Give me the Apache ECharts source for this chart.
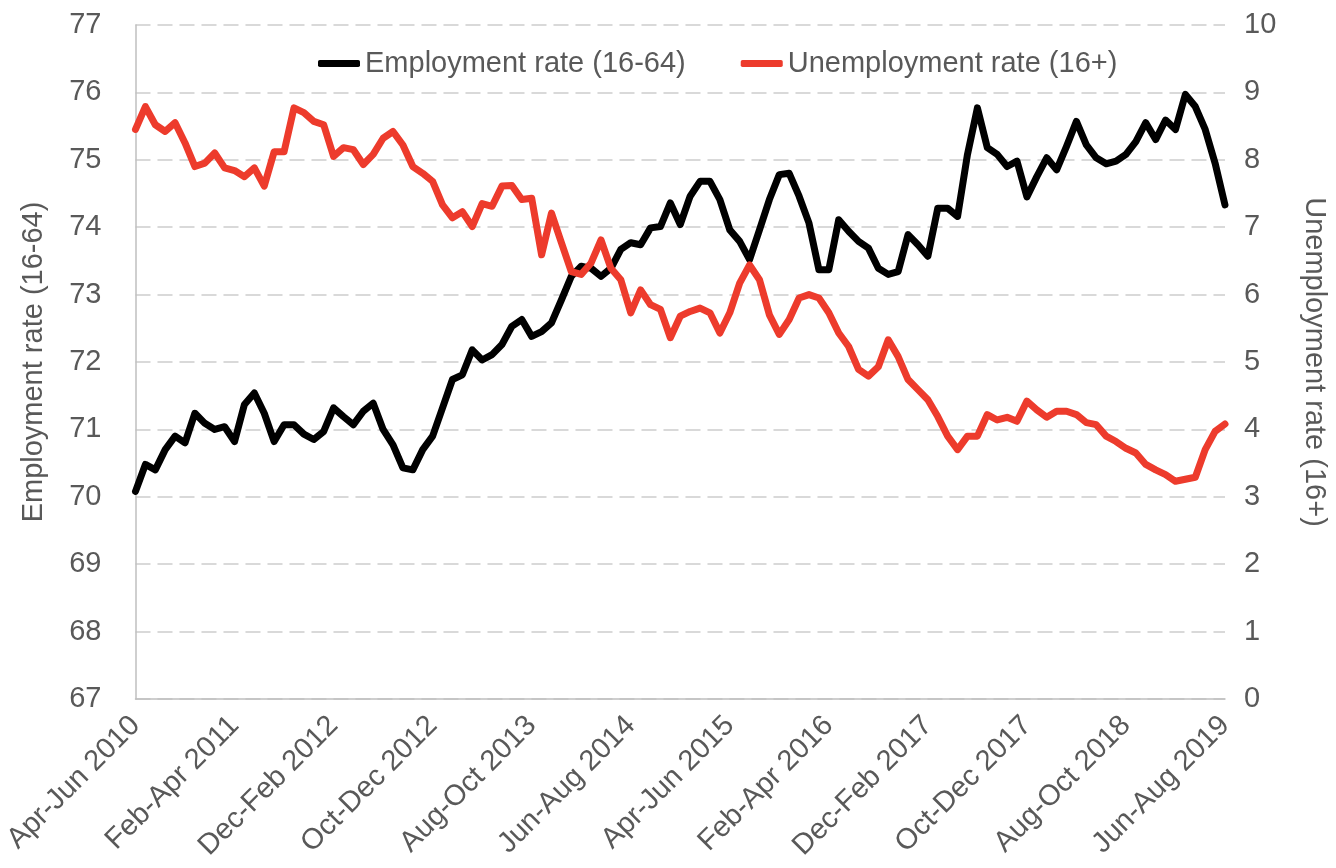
<!DOCTYPE html>
<html>
<head>
<meta charset="utf-8">
<title>Employment and unemployment rates</title>
<script src="https://cdn.jsdelivr.net/npm/echarts@6/dist/echarts.min.js"></script>
<style>
  html, body { margin: 0; padding: 0; background: #ffffff; }
  #chart { width: 1336px; height: 868px; }
</style>
</head>
<body>
<div id="chart"></div>
<script>
// Rolling three-month periods, Apr-Jun 2010 to Jun-Aug 2019
const periods = [
  'Apr-Jun 2010','May-Jul 2010','Jun-Aug 2010','Jul-Sep 2010','Aug-Oct 2010','Sep-Nov 2010','Oct-Dec 2010',
  'Nov-Jan 2011','Dec-Feb 2011','Jan-Mar 2011','Feb-Apr 2011','Mar-May 2011','Apr-Jun 2011','May-Jul 2011','Jun-Aug 2011','Jul-Sep 2011','Aug-Oct 2011','Sep-Nov 2011','Oct-Dec 2011',
  'Nov-Jan 2012','Dec-Feb 2012','Jan-Mar 2012','Feb-Apr 2012','Mar-May 2012','Apr-Jun 2012','May-Jul 2012','Jun-Aug 2012','Jul-Sep 2012','Aug-Oct 2012','Sep-Nov 2012','Oct-Dec 2012',
  'Nov-Jan 2013','Dec-Feb 2013','Jan-Mar 2013','Feb-Apr 2013','Mar-May 2013','Apr-Jun 2013','May-Jul 2013','Jun-Aug 2013','Jul-Sep 2013','Aug-Oct 2013','Sep-Nov 2013','Oct-Dec 2013',
  'Nov-Jan 2014','Dec-Feb 2014','Jan-Mar 2014','Feb-Apr 2014','Mar-May 2014','Apr-Jun 2014','May-Jul 2014','Jun-Aug 2014','Jul-Sep 2014','Aug-Oct 2014','Sep-Nov 2014','Oct-Dec 2014',
  'Nov-Jan 2015','Dec-Feb 2015','Jan-Mar 2015','Feb-Apr 2015','Mar-May 2015','Apr-Jun 2015','May-Jul 2015','Jun-Aug 2015','Jul-Sep 2015','Aug-Oct 2015','Sep-Nov 2015','Oct-Dec 2015',
  'Nov-Jan 2016','Dec-Feb 2016','Jan-Mar 2016','Feb-Apr 2016','Mar-May 2016','Apr-Jun 2016','May-Jul 2016','Jun-Aug 2016','Jul-Sep 2016','Aug-Oct 2016','Sep-Nov 2016','Oct-Dec 2016',
  'Nov-Jan 2017','Dec-Feb 2017','Jan-Mar 2017','Feb-Apr 2017','Mar-May 2017','Apr-Jun 2017','May-Jul 2017','Jun-Aug 2017','Jul-Sep 2017','Aug-Oct 2017','Sep-Nov 2017','Oct-Dec 2017',
  'Nov-Jan 2018','Dec-Feb 2018','Jan-Mar 2018','Feb-Apr 2018','Mar-May 2018','Apr-Jun 2018','May-Jul 2018','Jun-Aug 2018','Jul-Sep 2018','Aug-Oct 2018','Sep-Nov 2018','Oct-Dec 2018',
  'Nov-Jan 2019','Dec-Feb 2019','Jan-Mar 2019','Feb-Apr 2019','Mar-May 2019','Apr-Jun 2019','May-Jul 2019','Jun-Aug 2019'
];

// Employment rate, aged 16-64 (%)
const employmentRate = [
  70.08, 70.48, 70.40, 70.70, 70.90, 70.80, 71.24, 71.09, 71.00, 71.04,
  70.82, 71.37, 71.54, 71.24, 70.82, 71.07, 71.07, 70.93, 70.85, 70.97,
  71.32, 71.19, 71.07, 71.27, 71.39, 71.00, 70.77, 70.43, 70.40, 70.70,
  70.90, 71.32, 71.74, 71.81, 72.18, 72.03, 72.11, 72.26, 72.53, 72.63,
  72.38, 72.45, 72.58, 72.92, 73.27, 73.42, 73.39, 73.27, 73.39, 73.67,
  73.77, 73.74, 73.99, 74.01, 74.36, 74.04, 74.46, 74.68, 74.68, 74.41,
  73.96, 73.79, 73.52, 73.96, 74.41, 74.78, 74.80, 74.46, 74.06, 73.37,
  73.37, 74.11, 73.94, 73.79, 73.69, 73.39, 73.30, 73.34, 73.89, 73.74,
  73.57, 74.28, 74.28, 74.16, 75.08, 75.77, 75.18, 75.08, 74.90, 74.98,
  74.45, 74.75, 75.03, 74.85, 75.20, 75.57, 75.22, 75.03, 74.94, 74.98,
  75.08, 75.27, 75.55, 75.30, 75.59, 75.45, 75.97, 75.79, 75.45, 74.95,
  74.33
];

// Unemployment rate, aged 16 and over (%)
const unemploymentRate = [
  8.45, 8.79, 8.52, 8.42, 8.55, 8.25, 7.90, 7.95, 8.10, 7.88,
  7.84, 7.75, 7.88, 7.61, 8.12, 8.12, 8.77, 8.70, 8.57, 8.52,
  8.05, 8.18, 8.15, 7.93, 8.08, 8.32, 8.42, 8.22, 7.90, 7.80,
  7.68, 7.33, 7.14, 7.23, 7.01, 7.35, 7.31, 7.61, 7.62, 7.41,
  7.43, 6.59, 7.21, 6.77, 6.34, 6.30, 6.47, 6.81, 6.39, 6.22,
  5.73, 6.07, 5.85, 5.78, 5.36, 5.68, 5.75, 5.80, 5.73, 5.43,
  5.73, 6.17, 6.44, 6.22, 5.70, 5.41, 5.63, 5.95, 6.00, 5.95,
  5.73, 5.43, 5.23, 4.89, 4.79, 4.93, 5.33, 5.08, 4.74, 4.59,
  4.44, 4.19, 3.90, 3.70, 3.90, 3.90, 4.22, 4.14, 4.18, 4.12,
  4.42, 4.29, 4.18, 4.27, 4.27, 4.22, 4.10, 4.07, 3.90, 3.82,
  3.72, 3.65, 3.48, 3.40, 3.33, 3.23, 3.26, 3.29, 3.70, 3.97,
  4.08
];

const seriesNames = ['Employment rate (16-64)', 'Unemployment rate (16+)'];
const axisNames = ['Employment rate (16-64)', 'Unemployment rate (16+)'];

const FONT = '"Liberation Sans", Arial, sans-serif';
const TEXT = '#595959';
const GRID_LINE = '#d9d9d9';
const AXIS_LINE = '#bfbfbf';

const chart = echarts.init(document.getElementById('chart'), null, { renderer: 'canvas' });

chart.setOption({
  animation: false,
  backgroundColor: '#ffffff',
  textStyle: { fontFamily: FONT, color: TEXT },
  grid: { left: 133, right: 110, top: 25, bottom: 169, containLabel: false },
  legend: {
    data: seriesNames,
    left: 313,
    top: 44,
    icon: 'roundRect',
    itemWidth: 42,
    itemHeight: 7,
    itemGap: 55,
    textStyle: { fontFamily: FONT, fontSize: 29, color: TEXT }
  },
  xAxis: {
    type: 'category',
    data: periods,
    boundaryGap: false,
    axisLine: { show: true, lineStyle: { color: AXIS_LINE, width: 1.5 } },
    axisTick: { show: false },
    splitLine: { show: false },
    axisLabel: {
      interval: 9,
      rotate: 45,
      margin: 22,
      fontFamily: FONT,
      fontSize: 29,
      color: TEXT
    }
  },
  yAxis: [
    {
      type: 'value',
      min: 67,
      max: 77,
      interval: 1,
      name: axisNames[0],
      nameLocation: 'middle',
      nameGap: 87,
      nameTextStyle: { fontFamily: FONT, fontSize: 29, color: TEXT },
      axisLine: { show: true, lineStyle: { color: AXIS_LINE, width: 1.5 } },
      axisTick: { show: false },
      axisLabel: { margin: 34, fontFamily: FONT, fontSize: 29, color: TEXT },
      splitLine: { show: true, lineStyle: { color: GRID_LINE, width: 2, type: [15, 7] } }
    },
    {
      type: 'value',
      min: 0,
      max: 10,
      interval: 1,
      name: axisNames[1],
      nameLocation: 'middle',
      nameRotate: -90,
      nameGap: 74,
      nameTextStyle: { fontFamily: FONT, fontSize: 29, color: TEXT },
      axisLine: { show: false },
      axisTick: { show: false },
      axisLabel: { margin: 19, fontFamily: FONT, fontSize: 29, color: TEXT },
      splitLine: { show: false }
    }
  ],
  series: [
    {
      name: seriesNames[0],
      type: 'line',
      yAxisIndex: 0,
      data: employmentRate,
      symbol: 'none',
      color: '#000000',
      lineStyle: { color: '#000000', width: 7, join: 'round', cap: 'round' }
    },
    {
      name: seriesNames[1],
      type: 'line',
      yAxisIndex: 1,
      data: unemploymentRate,
      symbol: 'none',
      color: '#ed3b2c',
      lineStyle: { color: '#ed3b2c', width: 7, join: 'round', cap: 'round' }
    }
  ]
});
</script>
</body>
</html>
